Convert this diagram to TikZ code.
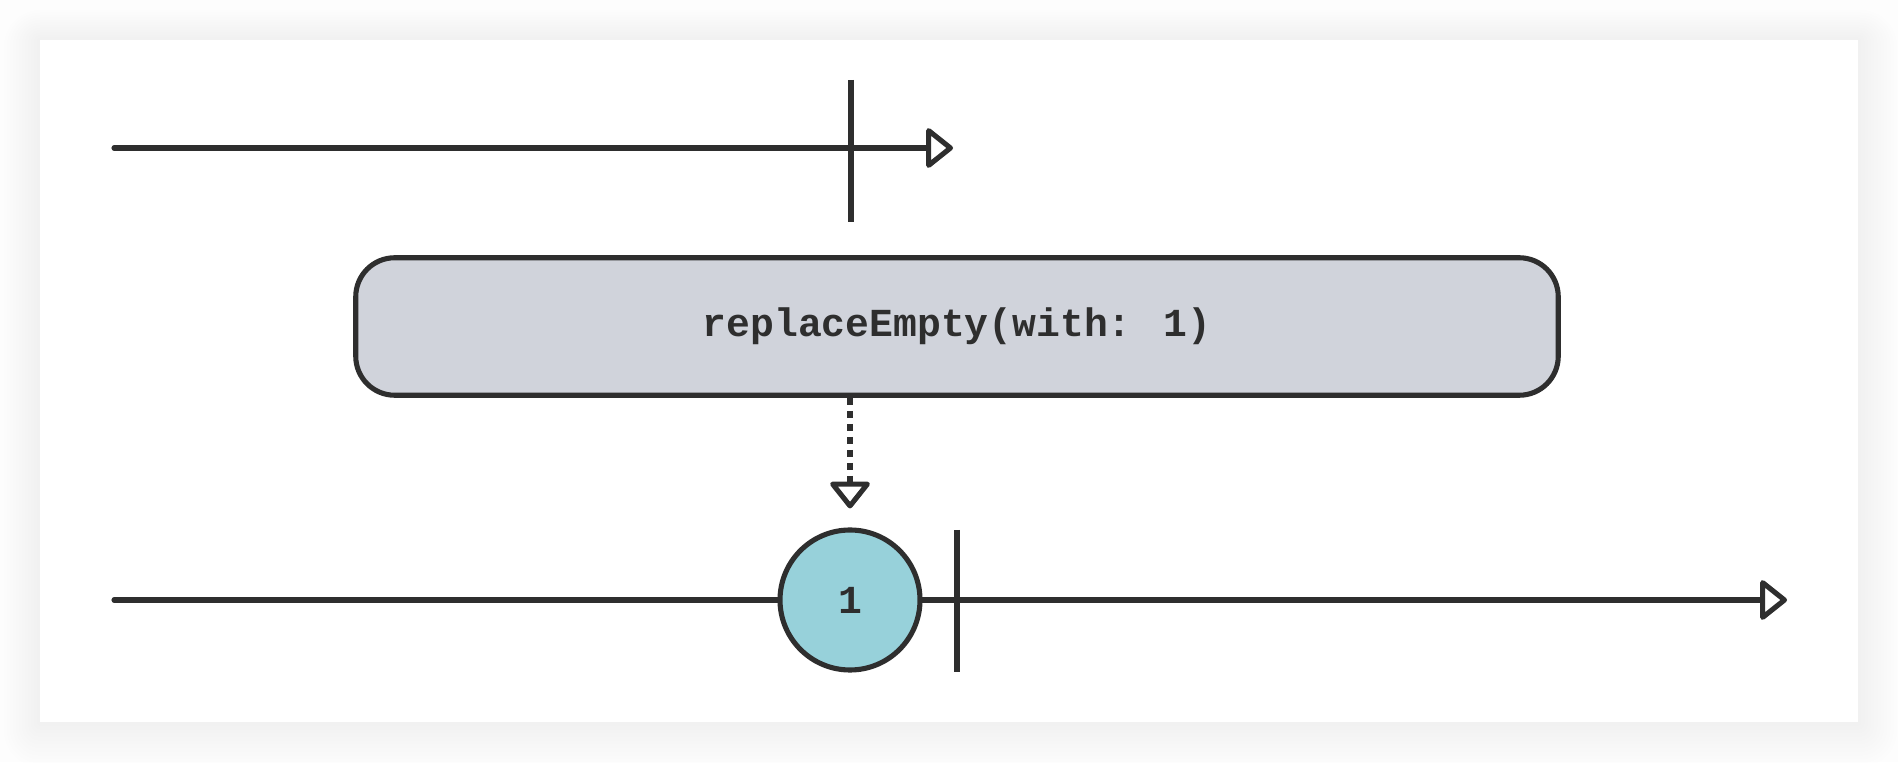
\documentclass[tikz,border=0pt]{standalone}
\usepackage{fontspec}
\usetikzlibrary{arrows.meta,positioning,calc}
\newfontfamily\codefont{Liberation Mono Bold}
\definecolor{inkline}{HTML}{2E2E2E}
\definecolor{opfill}{HTML}{D0D3DB}
\definecolor{valfill}{HTML}{97D1DA}
\definecolor{pagebg}{HTML}{FDFDFD}

\begin{document}
\begin{tikzpicture}[
    x=1cm, y=1cm,
    line join=round, line cap=round,
    tip/.style={-{Triangle[length=0.57cm, width=0.88cm, fill=white, line width=2.9pt, round]}},
    timeline/.style={draw=inkline, line width=2.9pt, tip},
    endtick/.style={draw=inkline, line width=2.9pt},
    opbox/.style={draw=inkline, line width=2.9pt, fill=opfill, rounded corners=0.78cm,
                  minimum width=24.05cm, minimum height=2.75cm,
                  font=\codefont\fontsize{22.6}{27}\selectfont, text=inkline},
    value/.style={draw=inkline, line width=2.9pt, fill=valfill, circle,
                  minimum size=2.8cm, inner sep=0pt,
                  font=\codefont\fontsize{22.6}{27}\selectfont, text=inkline},
]
% Page and card with soft shadow
\fill[pagebg] (0,0) rectangle (37.96,15.24);
\useasboundingbox (0,0) rectangle (37.96,15.24);
\foreach \s in {1,...,12} {
    \fill[black, opacity=0.005, rounded corners=0.06*\s cm]
        (0.8-0.06*\s,0.8-0.075*\s) rectangle (37.16+0.065*\s,14.44+0.05*\s);
}
\fill[white] (0.8,0.8) rectangle (37.16,14.44);

% Upper stream
\coordinate (inA) at (2.28,12.28);
\coordinate (outA) at (19.06,12.28);
\draw[timeline] (inA) -- (outA);
\coordinate (endA) at (17.02,12.28);
\draw[endtick, line cap=butt] ($(endA)+(0,1.36)$) -- ($(endA)+(0,-1.48)$);

% Operator
\node[opbox] (op) at (19.14,8.71) {replaceEmpty(with: 1)};

% Lower stream
\coordinate (inB) at (2.28,3.24);
\coordinate (outB) at (35.74,3.24);
\draw[timeline] (inB) -- (outB);
\node[value] (v1) at (17.0,3.24) {1};
\coordinate (endB) at (19.14,3.24);
\draw[endtick, line cap=butt] ($(endB)+(0,1.4)$) -- ($(endB)+(0,-1.44)$);

% Emitted value
\draw[inkline, line width=2.9pt, line cap=butt, dash pattern=on 4pt off 3.4pt,
      shorten >=0.38cm, tip]
    (op.south -| v1.north) -- (v1.north);
\end{tikzpicture}
\end{document}
